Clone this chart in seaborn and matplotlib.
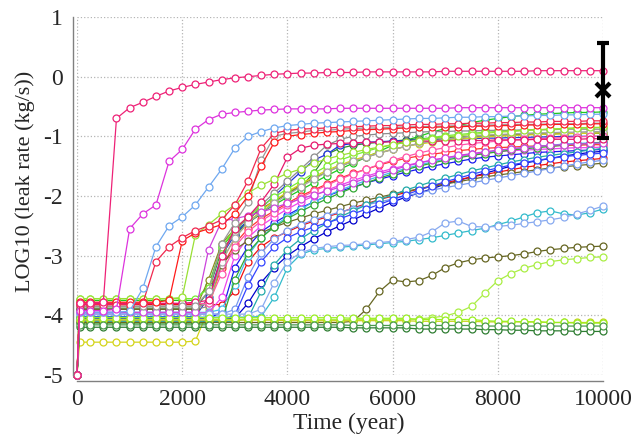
import matplotlib
matplotlib.use("Agg")
import matplotlib.pyplot as plt
import pandas as pd
import seaborn as sns

# Sample times (years): the initial step at 50 years, then every 250 years
years = [0, 50] + list(range(250, 10001, 250))

# LOG10 leak rate (kg/s) of each simulated realisation at the sample times
run01 = [-5.0, -3.8, -3.8, -3.78, -0.7, -0.52, -0.43, -0.33, -0.24, -0.18, -0.13, -0.09,
         -0.05, -0.02, 0.0, 0.02, 0.04, 0.05, 0.06, 0.06, 0.07, 0.07,
         0.07, 0.08, 0.08, 0.08, 0.08, 0.08, 0.08, 0.09, 0.09, 0.09,
         0.09, 0.09, 0.09, 0.09, 0.1, 0.1, 0.1, 0.1, 0.1, 0.1]
run02 = [-5.0, -3.92, -3.92, -3.92, -3.9, -2.55, -2.3, -2.15, -1.42, -1.22, -0.88, -0.72,
         -0.63, -0.6, -0.58, -0.56, -0.55, -0.54, -0.54, -0.54, -0.54, -0.53,
         -0.53, -0.53, -0.53, -0.53, -0.53, -0.53, -0.53, -0.53, -0.52, -0.52,
         -0.52, -0.52, -0.52, -0.52, -0.52, -0.52, -0.52, -0.52, -0.52, -0.52]
run03 = [-5.0, -3.95, -3.95, -3.95, -3.95, -3.93, -3.55, -2.85, -2.5, -2.35, -2.15, -1.85,
         -1.55, -1.2, -1.0, -0.92, -0.86, -0.82, -0.8, -0.78, -0.77, -0.76,
         -0.75, -0.74, -0.73, -0.72, -0.71, -0.7, -0.7, -0.69, -0.68, -0.68,
         -0.67, -0.67, -0.66, -0.66, -0.65, -0.65, -0.64, -0.64, -0.63, -0.63]
run04 = [-5.0, -3.82, -3.82, -3.82, -3.82, -3.82, -3.8, -3.1, -2.85, -2.7, -2.58, -2.5,
         -2.4, -2.15, -1.75, -1.2, -0.95, -0.9, -0.88, -0.87, -0.86, -0.85,
         -0.84, -0.83, -0.82, -0.82, -0.81, -0.8, -0.8, -0.79, -0.79, -0.78,
         -0.78, -0.77, -0.77, -0.76, -0.76, -0.75, -0.75, -0.75, -0.74, -0.74]
run05 = [-5.0, -3.78, -3.78, -3.78, -3.78, -3.78, -3.78, -3.78, -3.75, -2.75, -2.62, -2.55,
         -2.48, -2.3, -2.0, -1.5, -1.1, -1.0, -0.97, -0.95, -0.93, -0.92,
         -0.9, -0.89, -0.88, -0.87, -0.86, -0.85, -0.85, -0.84, -0.84, -0.83,
         -0.83, -0.82, -0.82, -0.81, -0.81, -0.8, -0.8, -0.8, -0.79, -0.79]
run06 = [-5.0, -3.72, -3.72, -3.72, -3.72, -3.72, -3.72, -3.72, -3.72, -3.7, -2.65, -2.48,
         -2.3, -2.15, -1.95, -1.82, -1.72, -1.62, -1.55, -1.45, -1.38, -1.32,
         -1.27, -1.22, -1.18, -1.14, -1.1, -1.07, -1.04, -1.01, -0.99, -0.97,
         -0.95, -0.93, -0.92, -0.9, -0.89, -0.88, -0.87, -0.86, -0.85, -0.85]
run07 = [-5.0, -3.85, -3.85, -3.85, -3.85, -3.85, -3.85, -3.85, -3.85, -3.85, -3.85, -3.6,
         -2.8, -2.45, -2.1, -1.4, -1.0, -0.95, -0.93, -0.9, -0.9, -0.88,
         -0.87, -0.86, -0.86, -0.85, -0.84, -0.84, -0.83, -0.83, -0.82, -0.82,
         -0.81, -0.81, -0.8, -0.8, -0.8, -0.79, -0.79, -0.79, -0.78, -0.78]
run08 = [-5.0, -3.8, -3.8, -3.8, -3.8, -3.8, -3.8, -3.8, -3.8, -3.8, -3.78, -3.75,
         -3.0, -2.55, -2.35, -2.1, -1.8, -1.35, -1.2, -1.15, -1.13, -1.12,
         -1.11, -1.1, -1.1, -1.09, -1.09, -1.08, -1.08, -1.08, -1.07, -1.07,
         -1.07, -1.06, -1.06, -1.06, -1.05, -1.05, -1.05, -1.05, -1.04, -1.04]
run09 = [-5.0, -3.95, -3.95, -3.95, -3.95, -3.95, -3.95, -3.95, -3.95, -3.95, -3.95, -2.9,
         -2.42, -2.38, -2.33, -2.27, -2.2, -2.12, -2.05, -1.98, -1.92, -1.85,
         -1.78, -1.7, -1.63, -1.57, -1.5, -1.45, -1.4, -1.36, -1.32, -1.29,
         -1.26, -1.23, -1.21, -1.19, -1.17, -1.15, -1.14, -1.13, -1.12, -1.11]
run10 = [-5.0, -3.75, -3.75, -3.75, -3.75, -3.75, -3.75, -3.75, -3.75, -3.75, -3.75, -3.5,
         -2.85, -2.6, -2.42, -2.28, -2.15, -2.02, -1.9, -1.78, -1.66, -1.55,
         -1.45, -1.35, -1.25, -1.15, -1.07, -1.0, -0.93, -0.87, -0.82, -0.77,
         -0.73, -0.7, -0.67, -0.65, -0.63, -0.62, -0.61, -0.6, -0.6, -0.59]
run11 = [-5.0, -3.88, -3.88, -3.88, -3.88, -3.88, -3.88, -3.88, -3.88, -3.88, -3.88, -3.6,
         -2.9, -2.65, -2.45, -2.3, -2.1, -1.95, -1.85, -1.62, -1.3, -1.2,
         -1.15, -1.12, -1.1, -1.08, -1.06, -1.04, -1.03, -1.02, -1.01, -1.0,
         -0.99, -0.98, -0.97, -0.97, -0.96, -0.96, -0.95, -0.95, -0.95, -0.95]
run12 = [-5.0, -4.05, -4.05, -4.05, -4.05, -4.05, -4.05, -4.05, -4.05, -4.05, -4.05, -4.05,
         -3.95, -3.2, -2.85, -2.6, -2.45, -2.32, -2.2, -2.1, -2.0, -1.92,
         -1.85, -1.78, -1.72, -1.66, -1.6, -1.55, -1.5, -1.46, -1.42, -1.38,
         -1.35, -1.33, -1.31, -1.29, -1.27, -1.26, -1.25, -1.24, -1.23, -1.22]
run13 = [-5.0, -4.02, -4.02, -4.02, -4.02, -4.02, -4.02, -4.02, -4.02, -4.02, -4.02, -3.7,
         -3.0, -2.65, -2.4, -2.2, -2.0, -1.8, -1.6, -1.4, -1.3, -1.15,
         -1.12, -1.1, -1.09, -1.08, -1.07, -1.06, -1.05, -1.05, -1.04, -1.04,
         -1.03, -1.03, -1.02, -1.02, -1.01, -1.01, -1.0, -1.0, -1.0, -1.0]
run14 = [-5.0, -4.07, -4.07, -4.07, -4.07, -4.07, -4.07, -4.07, -4.07, -4.07, -4.07, -4.07,
         -4.07, -4.05, -3.8, -3.45, -3.2, -3.0, -2.85, -2.72, -2.6, -2.5,
         -2.4, -2.3, -2.2, -2.1, -2.02, -1.95, -1.88, -1.8, -1.74, -1.68,
         -1.62, -1.56, -1.5, -1.45, -1.41, -1.37, -1.33, -1.3, -1.27, -1.25]
run15 = [-5.0, -3.82, -3.82, -3.82, -3.82, -3.82, -3.82, -3.82, -3.82, -3.82, -3.82, -3.82,
         -3.82, -3.6, -3.1, -2.85, -2.7, -2.6, -2.5, -2.42, -2.35, -2.28,
         -2.2, -2.13, -2.06, -2.0, -1.94, -1.88, -1.83, -1.78, -1.73, -1.68,
         -1.64, -1.6, -1.56, -1.52, -1.49, -1.46, -1.43, -1.41, -1.39, -1.37]
run16 = [-5.0, -3.85, -3.85, -3.85, -3.85, -3.85, -3.85, -3.85, -3.85, -3.85, -3.85, -3.8,
         -3.2, -2.8, -2.55, -2.38, -2.25, -2.12, -2.0, -1.9, -1.8, -1.7,
         -1.62, -1.55, -1.48, -1.42, -1.37, -1.33, -1.3, -1.27, -1.24, -1.22,
         -1.2, -1.19, -1.18, -1.17, -1.16, -1.16, -1.15, -1.15, -1.14, -1.14]
run17 = [-5.0, -3.9, -3.9, -3.9, -3.9, -3.9, -3.9, -3.9, -3.9, -3.9, -3.9, -3.4,
         -2.8, -2.55, -2.38, -2.22, -2.08, -1.95, -1.82, -1.7, -1.6, -1.5,
         -1.42, -1.35, -1.28, -1.22, -1.17, -1.12, -1.08, -1.05, -1.02, -1.0,
         -0.99, -0.98, -0.97, -0.97, -0.96, -0.96, -0.95, -0.95, -0.95, -0.94]
run18 = [-5.0, -4.45, -4.45, -4.45, -4.45, -4.45, -4.45, -4.45, -4.45, -4.45, -4.43, -3.9,
         -3.1, -2.7, -2.45, -2.25, -2.08, -1.93, -1.8, -1.68, -1.57, -1.48,
         -1.4, -1.33, -1.27, -1.22, -1.17, -1.13, -1.1, -1.07, -1.05, -1.03,
         -1.01, -1.0, -0.99, -0.98, -0.97, -0.96, -0.96, -0.95, -0.95, -0.94]
run19 = [-5.0, -3.9, -3.9, -3.9, -3.9, -3.9, -3.9, -3.9, -3.9, -3.9, -3.9, -3.85,
         -3.0, -2.6, -2.35, -2.15, -1.95, -1.75, -1.55, -1.35, -1.15, -1.05,
         -1.0, -0.98, -0.96, -0.95, -0.94, -0.93, -0.92, -0.92, -0.91, -0.91,
         -0.9, -0.9, -0.9, -0.89, -0.89, -0.89, -0.88, -0.88, -0.88, -0.88]
run20 = [-5.0, -3.95, -3.95, -3.95, -3.95, -3.95, -3.95, -3.95, -3.95, -3.95, -3.95, -3.95,
         -3.9, -3.5, -3.0, -2.7, -2.5, -2.35, -2.22, -2.1, -2.0, -1.9,
         -1.82, -1.74, -1.67, -1.6, -1.54, -1.48, -1.43, -1.38, -1.34, -1.3,
         -1.27, -1.24, -1.21, -1.19, -1.17, -1.15, -1.13, -1.12, -1.11, -1.1]
run21 = [-5.0, -3.72, -3.72, -3.72, -3.72, -3.72, -3.72, -3.72, -3.72, -3.72, -3.72, -3.55,
         -2.85, -2.55, -2.35, -2.18, -2.02, -1.88, -1.75, -1.62, -1.5, -1.4,
         -1.32, -1.25, -1.19, -1.14, -1.1, -1.06, -1.02, -0.99, -0.97, -0.95,
         -0.93, -0.92, -0.91, -0.9, -0.89, -0.88, -0.87, -0.86, -0.86, -0.85]
run22 = [-5.0, -3.96, -3.96, -3.96, -3.96, -3.96, -3.96, -3.96, -3.96, -3.96, -3.96, -3.96,
         -3.7, -3.0, -2.7, -2.5, -2.35, -2.22, -2.1, -2.0, -1.9, -1.82,
         -1.74, -1.67, -1.6, -1.54, -1.49, -1.44, -1.4, -1.36, -1.33, -1.3,
         -1.28, -1.26, -1.24, -1.23, -1.22, -1.21, -1.2, -1.19, -1.19, -1.18]
run23 = [-5.0, -3.9, -3.9, -3.9, -3.9, -3.9, -3.9, -3.9, -3.9, -3.9, -3.9, -3.75,
         -3.15, -2.9, -2.75, -2.62, -2.52, -2.44, -2.37, -2.3, -2.24, -2.18,
         -2.12, -2.07, -2.02, -1.97, -1.92, -1.88, -1.84, -1.8, -1.76, -1.72,
         -1.68, -1.65, -1.62, -1.59, -1.56, -1.53, -1.51, -1.49, -1.47, -1.45]
run24 = [-5.0, -3.98, -3.98, -3.98, -3.98, -3.98, -3.98, -3.98, -3.98, -3.98, -3.98, -3.98,
         -3.98, -3.9, -3.35, -2.95, -2.72, -2.58, -2.48, -2.4, -2.33, -2.27,
         -2.21, -2.15, -2.1, -2.05, -2.0, -1.95, -1.9, -1.86, -1.82, -1.78,
         -1.74, -1.7, -1.66, -1.62, -1.58, -1.54, -1.5, -1.46, -1.43, -1.4]
run25 = [-5.0, -3.85, -3.85, -3.85, -3.85, -3.85, -3.85, -3.85, -3.85, -3.85, -3.85, -3.8,
         -3.1, -2.7, -2.45, -2.28, -2.12, -1.98, -1.85, -1.72, -1.6, -1.5,
         -1.42, -1.35, -1.28, -1.22, -1.17, -1.12, -1.08, -1.05, -1.02, -1.0,
         -0.98, -0.97, -0.96, -0.95, -0.94, -0.94, -0.93, -0.93, -0.92, -0.92]
run26 = [-5.0, -3.8, -3.8, -3.8, -3.8, -3.8, -3.8, -3.8, -3.8, -3.8, -3.8, -3.8,
         -3.3, -2.85, -2.6, -2.42, -2.28, -2.15, -2.03, -1.92, -1.82, -1.72,
         -1.63, -1.55, -1.47, -1.4, -1.34, -1.28, -1.23, -1.19, -1.15, -1.12,
         -1.1, -1.08, -1.06, -1.05, -1.04, -1.03, -1.02, -1.01, -1.0, -1.0]
run27 = [-5.0, -4.13, -4.13, -4.13, -4.13, -4.13, -4.13, -4.13, -4.13, -4.13, -4.13, -4.13,
         -4.1, -3.4, -2.95, -2.7, -2.52, -2.38, -2.26, -2.15, -2.05, -1.95,
         -1.86, -1.78, -1.7, -1.63, -1.56, -1.5, -1.45, -1.4, -1.36, -1.32,
         -1.29, -1.26, -1.23, -1.21, -1.19, -1.17, -1.15, -1.13, -1.12, -1.1]
run28 = [-5.0, -4.1, -4.1, -4.1, -4.1, -4.1, -4.1, -4.1, -4.1, -4.1, -4.1, -4.1,
         -4.1, -4.1, -4.05, -3.6, -3.15, -2.9, -2.72, -2.58, -2.46, -2.35,
         -2.25, -2.15, -2.06, -1.98, -1.9, -1.83, -1.76, -1.7, -1.64, -1.58,
         -1.53, -1.48, -1.43, -1.39, -1.35, -1.32, -1.29, -1.26, -1.23, -1.2]
run29 = [-5.0, -4.08, -4.08, -4.08, -4.08, -4.08, -4.08, -4.08, -4.08, -4.08, -4.08, -4.08,
         -4.08, -4.0, -3.5, -3.1, -2.85, -2.7, -2.6, -2.52, -2.45, -2.38,
         -2.3, -2.22, -2.14, -2.06, -1.98, -1.9, -1.83, -1.76, -1.7, -1.64,
         -1.58, -1.53, -1.48, -1.44, -1.4, -1.37, -1.34, -1.32, -1.3, -1.28]
run30 = [-5.0, -4.03, -4.03, -4.03, -4.03, -4.03, -4.03, -4.03, -4.03, -4.03, -4.03, -4.03,
         -4.03, -4.03, -4.03, -4.02, -3.7, -3.2, -2.98, -2.9, -2.88, -2.86,
         -2.84, -2.82, -2.8, -2.78, -2.76, -2.73, -2.7, -2.66, -2.62, -2.58,
         -2.54, -2.48, -2.42, -2.35, -2.28, -2.25, -2.3, -2.32, -2.28, -2.22]
run31 = [-5.0, -3.98, -3.98, -3.98, -3.98, -3.98, -3.98, -3.98, -3.98, -3.98, -3.98, -3.98,
         -3.98, -3.98, -3.98, -3.9, -3.45, -3.1, -2.95, -2.88, -2.85, -2.83,
         -2.82, -2.8, -2.78, -2.76, -2.73, -2.69, -2.6, -2.45, -2.42, -2.51,
         -2.52, -2.51, -2.49, -2.46, -2.43, -2.4, -2.36, -2.3, -2.24, -2.17]
run32 = [-5.0, -4.12, -4.12, -4.12, -4.12, -4.12, -4.12, -4.12, -4.12, -4.12, -4.12, -4.12,
         -4.12, -4.12, -4.12, -4.12, -4.12, -4.12, -4.12, -4.12, -4.12, -4.12,
         -4.1, -3.9, -3.6, -3.41, -3.44, -3.42, -3.33, -3.2, -3.12, -3.07,
         -3.04, -3.02, -3.0, -2.97, -2.93, -2.9, -2.88, -2.86, -2.85, -2.84]
run33 = [-5.0, -4.07, -4.07, -4.07, -4.07, -4.07, -4.07, -4.07, -4.07, -4.07, -4.07, -4.07,
         -4.07, -4.07, -4.07, -4.07, -4.07, -4.07, -4.07, -4.07, -4.07, -4.07,
         -4.07, -4.07, -4.07, -4.07, -4.07, -4.06, -4.04, -4.01, -3.95, -3.85,
         -3.63, -3.42, -3.3, -3.21, -3.15, -3.1, -3.07, -3.05, -3.03, -3.02]
run34 = [-5.0, -4.08, -4.08, -4.08, -4.08, -4.08, -4.08, -4.08, -4.08, -4.08, -4.08, -4.08,
         -4.08, -4.08, -4.08, -4.08, -4.08, -4.09, -4.09, -4.09, -4.09, -4.09,
         -4.09, -4.09, -4.09, -4.09, -4.09, -4.1, -4.1, -4.1, -4.1, -4.1,
         -4.11, -4.11, -4.11, -4.11, -4.11, -4.12, -4.12, -4.12, -4.12, -4.12]
run35 = [-5.0, -4.04, -4.04, -4.04, -4.04, -4.04, -4.04, -4.04, -4.04, -4.04, -4.04, -4.04,
         -4.04, -4.04, -4.04, -4.04, -4.04, -4.04, -4.04, -4.04, -4.04, -4.04,
         -4.05, -4.05, -4.05, -4.05, -4.05, -4.07, -4.07, -4.07, -4.07, -4.07,
         -4.09, -4.1, -4.1, -4.11, -4.11, -4.12, -4.12, -4.13, -4.13, -4.13]
run36 = [-5.0, -4.2, -4.2, -4.2, -4.2, -4.2, -4.2, -4.2, -4.2, -4.2, -4.2, -4.2,
         -4.2, -4.2, -4.2, -4.2, -4.2, -4.2, -4.2, -4.2, -4.2, -4.2,
         -4.21, -4.21, -4.21, -4.21, -4.21, -4.23, -4.23, -4.23, -4.23, -4.23,
         -4.24, -4.24, -4.25, -4.25, -4.26, -4.26, -4.26, -4.27, -4.27, -4.27]
run37 = [-5.0, -4.16, -4.16, -4.16, -4.16, -4.16, -4.16, -4.16, -4.16, -4.16, -4.16, -4.16,
         -4.16, -4.16, -4.16, -4.16, -4.16, -4.16, -4.16, -4.16, -4.16, -4.16,
         -4.17, -4.17, -4.17, -4.17, -4.17, -4.17, -4.17, -4.17, -4.17, -4.17,
         -4.18, -4.18, -4.18, -4.18, -4.18, -4.18, -4.18, -4.18, -4.18, -4.18]

# Drawing order (later runs are drawn on top) and line colours
run_names = ["run10", "run11", "run12", "run13", "run14", "run15", "run16", "run17",
             "run18", "run19", "run20", "run21", "run22", "run23", "run24", "run25",
             "run26", "run27", "run28", "run29", "run30", "run31", "run32", "run33",
             "run34", "run35", "run36", "run37", "run09", "run08", "run07", "run06",
             "run05", "run04", "run03", "run02", "run01"]
run_colors = {
    "run01": "#ee2277", "run02": "#dd33dd", "run03": "#6fa8f0", "run04": "#f0284f",
    "run05": "#ff1a1a", "run06": "#99e033", "run07": "#999999", "run08": "#e6196e",
    "run09": "#cc44dd", "run10": "#1ec81e", "run11": "#2e8b2e", "run12": "#1a1aee",
    "run13": "#2233dd", "run14": "#0000cc", "run15": "#ee1111", "run16": "#ff3333",
    "run17": "#8b8b22", "run18": "#d4d41a", "run19": "#8c8c8c", "run20": "#44bbee",
    "run21": "#77ee33", "run22": "#ee44ee", "run23": "#6b6b2a", "run24": "#7799ee",
    "run25": "#a5a5a5", "run26": "#ff55aa", "run27": "#33aa33", "run28": "#22aaaa",
    "run29": "#3344ff", "run30": "#33bbcc", "run31": "#88aaf0", "run32": "#666622",
    "run33": "#aaee44", "run34": "#c8d41a", "run35": "#99ee22", "run36": "#2e7d32",
    "run37": "#4a9a4a",
}

# Observed estimate at 10000 years (central value and range)
estimate_year = 10000
estimate_mid = -0.22
estimate_low = -1.03
estimate_high = 0.57

runs = {name: globals()[name] for name in run_names}
for name, values in runs.items():
    assert len(values) == len(years), name

frames = [pd.DataFrame({"year": years, "log_rate": values, "run": name})
          for name, values in runs.items()]
df = pd.concat(frames, ignore_index=True)

sns.set_style("white")
plt.rcParams["font.family"] = ["Liberation Serif", "DejaVu Serif"]
plt.rcParams["axes.unicode_minus"] = False

fig = plt.figure(figsize=(6.35, 4.37), dpi=100)
ax = fig.add_axes([0.1213, 0.1419, 0.8283, 0.8192])

sns.lineplot(data=df, x="year", y="log_rate", hue="run", hue_order=run_names,
             palette=run_colors, estimator=None, sort=False, legend=False,
             marker="o", markersize=5.0, markerfacecolor="white",
             markeredgewidth=0.9, linewidth=0.9, clip_on=False, ax=ax)
# open circles outlined in each run's own colour
for line in ax.lines:
    line.set_markeredgecolor(line.get_color())

ax.errorbar([estimate_year], [estimate_mid],
            yerr=[[estimate_mid - estimate_low], [estimate_high - estimate_mid]],
            fmt="x", color="black", ms=10, mew=3, elinewidth=3,
            capsize=4.5, capthick=1.2, clip_on=False, zorder=10)

ax.set_xlim(0, 10000)
ax.set_ylim(-5, 1)
ax.set_xticks([0, 2000, 4000, 6000, 8000, 10000])
ax.set_yticks([-5, -4, -3, -2, -1, 0, 1])
ax.grid(True, linestyle=":", color="#b5b5b5", linewidth=0.9)
ax.set_axisbelow(True)

for side in ("top", "right"):
    ax.spines[side].set_visible(False)
for side in ("left", "bottom"):
    ax.spines[side].set_color("#808080")
    ax.spines[side].set_linewidth(1.0)
ax.spines["left"].set_position(("outward", 3))
ax.spines["bottom"].set_position(("outward", 4.5))

ax.tick_params(axis="both", which="major", labelsize=17, length=3.5,
               color="#808080", pad=4)
ax.tick_params(axis="y", direction="out")
ax.tick_params(axis="x", direction="inout")

ax.set_xlabel("Time (year)", fontsize=17)
ax.set_ylabel("LOG10 (leak rate (kg/s))", fontsize=16)
ax.xaxis.set_label_coords(0.517, -0.106)
ax.yaxis.set_label_coords(-0.08, 0.542)

fig.savefig("out.png", dpi=100)
